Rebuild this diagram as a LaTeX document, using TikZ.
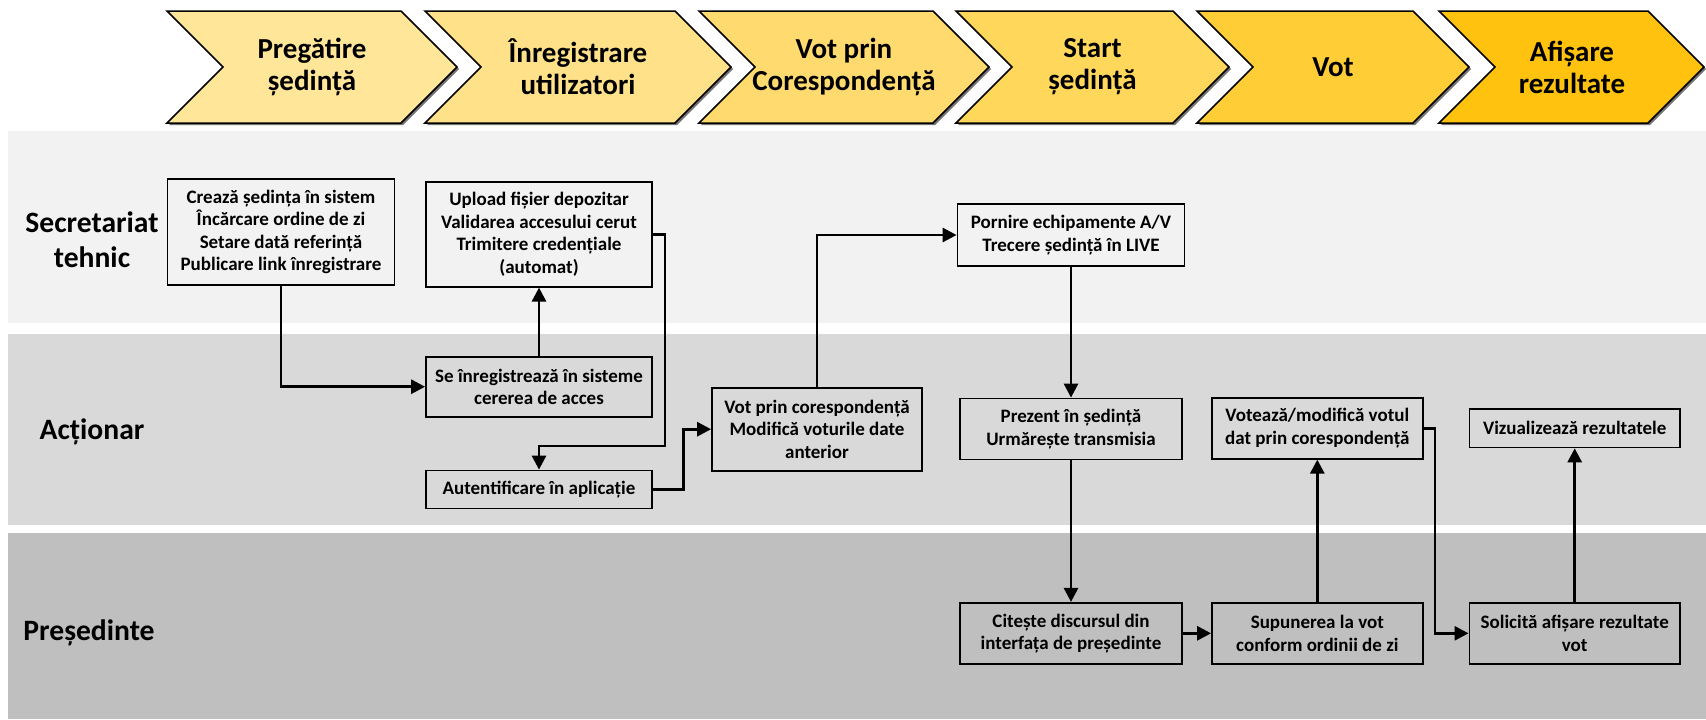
\documentclass[tikz,border=0pt]{standalone}
\usepackage{fontspec}
\setmainfont{Carlito}
\usetikzlibrary{arrows.meta}
\definecolor{laneA}{HTML}{F2F2F2}
\definecolor{laneB}{HTML}{D9D9D9}
\definecolor{laneC}{HTML}{BFBFBF}
\definecolor{chA}{HTML}{FFE699}
\definecolor{chB}{HTML}{FFE18A}
\definecolor{chC}{HTML}{FFDB6F}
\definecolor{chD}{HTML}{FFD75A}
\definecolor{chE}{HTML}{FFCE36}
\definecolor{chF}{HTML}{FFC30F}
\begin{document}
\begin{tikzpicture}[x=0.5pt,y=-0.5pt,
  box/.style={draw=black,line width=0.9pt,inner sep=0pt,align=center,
    font=\fontsize{9.5}{11.2}\selectfont\bfseries},
  arr/.style={line width=1.4pt,-{Triangle[length=7pt,width=7pt]}},
  lanelabel/.style={align=center,font=\fontsize{14.8}{17.4}\selectfont\bfseries},
  chtext/.style={align=center,font=\fontsize{14.5}{16}\selectfont\bfseries},
  chev/.style={draw=black,line width=0.75pt}]
\useasboundingbox (0,0) rectangle (1706,719);
% lanes
\fill[laneA] (8,130.7) rectangle (1706,322.7);
\fill[laneB] (8,334.4) rectangle (1706,524.5);
\fill[laneC] (8,533.4) rectangle (1706,719);
\node[lanelabel] (l1) at (92,240) {Secretariat\\tehnic};
\node[lanelabel] (l2) at (92,432) {Acționar};
\node[lanelabel] (l3) at (89,633) {Președinte};
% chevrons
\foreach \L/\T/\c in {167/457/chA,425/731/chB,699/989/chC,956/1229/chD,1197/1469/chE,1439/1704/chF}{
  \fill[black!55] (\L+2,13) -- (\T-54,13) -- (\T+2,69) -- (\T-54,125) -- (\L+2,125) -- (\L+58,69) -- cycle;
  \filldraw[chev,fill=\c] (\L,11) -- (\T-56,11) -- (\T,67) -- (\T-56,123) -- (\L,123) -- (\L+56,67) -- cycle;
}
\node[chtext] (h1) at (312,67) {Pregătire\\ședință};
\node[chtext] (h2) at (578,67) {Înregistrare\\utilizatori};
\node[chtext] (h3) at (844,67) {Vot prin\\Corespondență};
\node[chtext] (h4) at (1092.5,67) {Start\\ședință};
\node[chtext] (h5) at (1333,67) {Vot};
\node[chtext] (h6) at (1572,67) {Afișare\\rezultate};
% boxes
\node[box,minimum width=113.5pt,minimum height=53pt] (b1) at (281,232) {Crează ședința în sistem\\Încărcare ordine de zi\\Setare dată referință\\Publicare link înregistrare};
\node[box,minimum width=113pt,minimum height=52.5pt] (b2) at (539,234.2) {Upload fișier depozitar\\Validarea accesului cerut\\Trimitere credențiale\\(automat)};
\node[box,minimum width=113pt,minimum height=30pt] (b3) at (539,386.7) {Se înregistrează în sisteme\\cererea de acces};
\node[box,minimum width=113pt,minimum height=19pt] (b4) at (539,489.5) {Autentificare în aplicație};
\node[box,minimum width=105pt,minimum height=41.5pt] (b5) at (817,429.2) {Vot prin corespondență\\Modifică voturile date\\anterior};
\node[box,minimum width=113.5pt,minimum height=30.7pt] (b6) at (1071,235) {Pornire echipamente A/V\\Trecere ședință în LIVE};
\node[box,minimum width=111pt,minimum height=30.5pt] (b7) at (1071,429) {Prezent în ședință\\Urmărește transmisia};
\node[box,minimum width=111pt,minimum height=30.5pt] (b8) at (1071,633.3) {Citește discursul din\\interfața de președinte};
\node[box,minimum width=105.3pt,minimum height=30.5pt] (b9) at (1317.3,633.3) {Supunerea la vot\\conform ordinii de zi};
\node[box,minimum width=105.3pt,minimum height=30.5pt] (b10) at (1317.3,428.2) {Votează/modifică votul\\dat prin corespondență};
\node[box,minimum width=105.3pt,minimum height=19.2pt] (b11) at (1574.7,428.2) {Vizualizează rezultatele};
\node[box,minimum width=105.3pt,minimum height=30.5pt] (b12) at (1574.7,633.3) {Solicită afișare rezultate\\vot};
% helper coordinates
\coordinate (c3a) at (665,234.2);
\coordinate (c3b) at (665,446);
\coordinate (c4) at (683.5,429.2);
\coordinate (c10) at (1435,428.2);
% connectors
\draw[arr] (b1.south) |- (b3.west);
\draw[arr] (b3.north) -- (b2.south);
\draw[arr] (b2.east) -- (c3a) -- (c3b) -| (b4.north);
\draw[arr] (b4.east) -| (c4) -- (b5.west);
\draw[arr] (b5.north) |- (b6.west);
\draw[arr] (b6.south) -- (b6.south |- b7.north);
\draw[arr] (b7.south) -- (b7.south |- b8.north);
\draw[arr] (b8.east) -- (b9.west);
\draw[arr] (b9.north) -- (b10.south);
\draw[arr] (b10.east) -- (c10) |- (b12.west);
\draw[arr] (b12.north) -- (b11.south);
\end{tikzpicture}
\end{document}
